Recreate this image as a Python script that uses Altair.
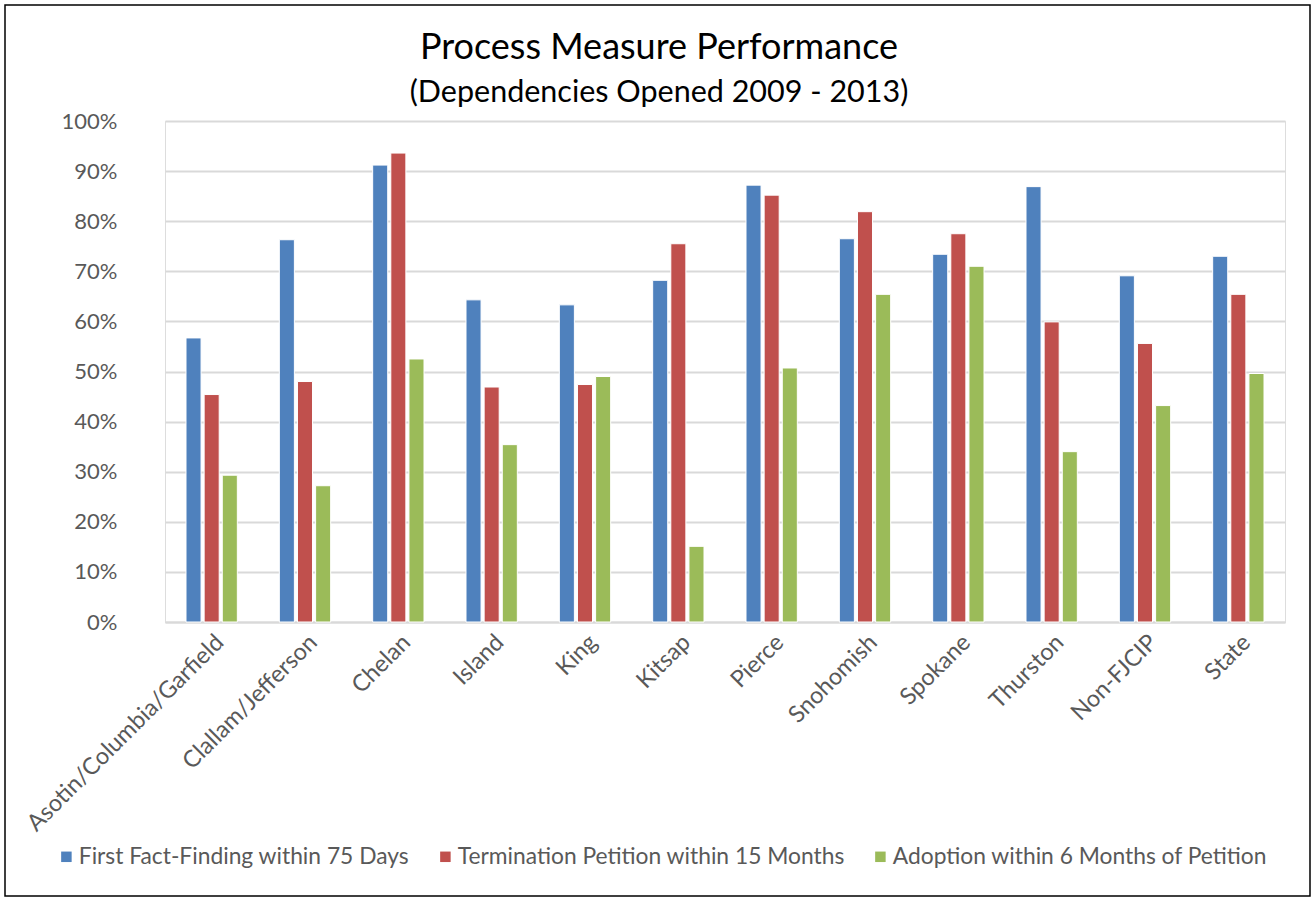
import altair as alt
import pandas as pd

categories = ["Asotin/Columbia/Garfield", "Clallam/Jefferson", "Chelan", "Island", "King",
              "Kitsap", "Pierce", "Snohomish", "Spokane", "Thurston", "Non-FJCIP", "State"]
series = ["First Fact-Finding within 75 Days", "Termination Petition within 15 Months",
          "Adoption within 6 Months of Petition"]
first_fact = [0.567, 0.763, 0.912, 0.643, 0.633, 0.682, 0.872, 0.765, 0.734, 0.869, 0.691, 0.730]
termination = [0.454, 0.480, 0.936, 0.469, 0.474, 0.755, 0.852, 0.819, 0.775, 0.599, 0.556, 0.654]
adoption = [0.293, 0.272, 0.525, 0.354, 0.490, 0.151, 0.507, 0.654, 0.710, 0.340, 0.432, 0.496]
colors = ["#4F81BD", "#C0504D", "#9BBB59"]
title_text = "Process Measure Performance"
subtitle_text = "(Dependencies Opened 2009 - 2013)"

rows = []
for i, c in enumerate(categories):
    for s, vals in zip(series, [first_fact, termination, adoption]):
        rows.append({"County": c, "Measure": s, "Value": vals[i]})
df = pd.DataFrame(rows)

FONT = "Lato"
GRAY = "#595959"

bars = alt.Chart(df).mark_bar(stroke="white", strokeWidth=1).encode(
    x=alt.X("County:N", sort=categories, title=None,
            scale=alt.Scale(paddingInner=0.45, paddingOuter=0.225),
            axis=alt.Axis(labelAngle=-45, labelFontSize=23.5, labelColor=GRAY, labelFont=FONT,
                          ticks=False, domain=True, domainColor="#D9D9D9", domainWidth=2,
                          labelPadding=8, labelLimit=400)),
    xOffset=alt.XOffset("Measure:N", sort=series, scale=alt.Scale(paddingInner=0.17)),
    y=alt.Y("Value:Q", title=None, scale=alt.Scale(domain=[0, 1], nice=False),
            axis=alt.Axis(format=".0%", values=[i / 10 for i in range(11)], labelFontSize=22,
                          labelColor=GRAY, labelFont=FONT, ticks=False, domain=False,
                          labelPadding=48, gridColor="#D9D9D9", gridWidth=2)),
    color=alt.Color("Measure:N", sort=series, scale=alt.Scale(domain=series, range=colors),
                    legend=alt.Legend(title=None, orient="none", direction="horizontal",
                                      legendX=-110, legendY=724, symbolType="square",
                                      symbolSize=110, symbolStrokeWidth=0, labelFontSize=22.8,
                                      labelColor=GRAY, labelFont=FONT, columnPadding=24,
                                      labelOffset=1, labelLimit=500)),
)

frame_df = pd.DataFrame({"a": [0]})
border = alt.Chart(frame_df).mark_rect(
    filled=False, stroke="black", strokeWidth=1.5
).encode(x=alt.value(-160), x2=alt.value(1145), y=alt.value(-116), y2=alt.value(775))

title_mark = alt.Chart(frame_df).mark_text(
    font=FONT, fontSize=36, color="black", baseline="middle", align="center"
).encode(x=alt.value(494), y=alt.value(-73), text=alt.value(title_text))

subtitle_mark = alt.Chart(frame_df).mark_text(
    font=FONT, fontSize=30.5, color="black", baseline="middle", align="center"
).encode(x=alt.value(494), y=alt.value(-28), text=alt.value(subtitle_text))

chart = alt.layer(border, bars, title_mark, subtitle_mark).properties(
    width=1120, height=501,
    autosize=alt.AutoSizeParams(type="none"),
    padding={"left": 165, "top": 121, "right": 29, "bottom": 279},
).configure_view(stroke=None).configure(background="white")

chart.save("out.html", embed_options={"renderer": "svg", "actions": False})
